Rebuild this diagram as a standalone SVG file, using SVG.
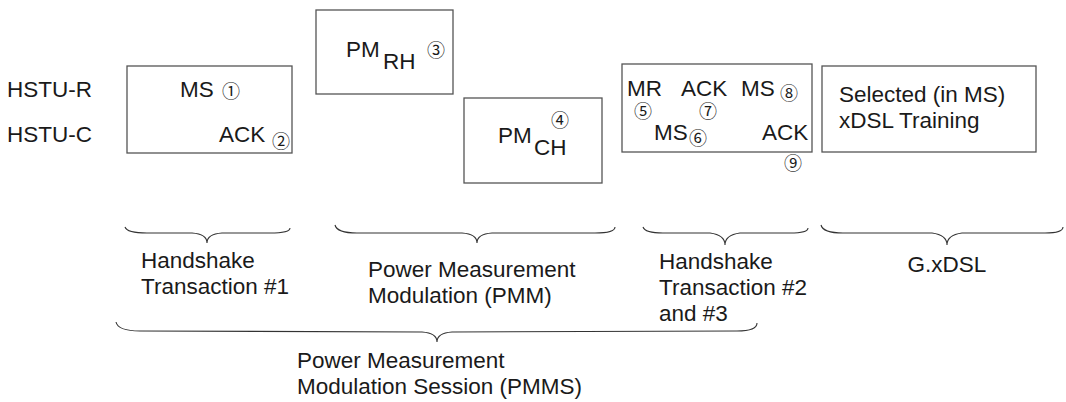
<svg xmlns="http://www.w3.org/2000/svg" width="1066" height="402" viewBox="0 0 1066 402">
<style>
.t{font-family:"Liberation Sans",Arial,sans-serif;font-size:22.5px;fill:#1a1a1a}
.c{font-family:"Noto Sans CJK JP","DejaVu Sans",sans-serif;font-size:18px;fill:#1a1a1a;text-anchor:middle;dominant-baseline:central}
.box{fill:#fff;stroke:#555;stroke-width:1.3}
.br{fill:none;stroke:#333;stroke-width:1.1}
</style>
<rect width="1066" height="402" fill="#fff"/>
<g id="labels">
<text class="t" x="7" y="97">HSTU-R</text>
<text class="t" x="7" y="142">HSTU-C</text>
</g>
<g id="node-hs1">
<rect class="box" x="127" y="66" width="165" height="87"/>
<text class="t" x="180" y="97">MS</text>
<text class="c" x="231" y="90">①</text>
<text class="t" x="219" y="142">ACK</text>
<text class="c" x="281" y="140">②</text>
</g>
<g id="node-pmrh">
<rect class="box" x="316" y="10" width="137" height="84"/>
<text class="t" x="346" y="57">PM</text>
<text class="t" x="383" y="69">RH</text>
<text class="c" x="436" y="49">③</text>
</g>
<g id="node-pmch">
<rect class="box" x="464" y="98" width="138" height="85"/>
<text class="t" x="498" y="143">PM</text>
<text class="t" x="534" y="155">CH</text>
<text class="c" x="560" y="119">④</text>
</g>
<g id="node-hs23">
<rect class="box" x="622" y="64" width="190" height="88"/>
<text class="t" x="627" y="96">MR</text>
<text class="c" x="643" y="110">⑤</text>
<text class="t" x="681" y="96">ACK</text>
<text class="c" x="708" y="110">⑦</text>
<text class="t" x="741" y="96">MS</text>
<text class="c" x="789" y="92">⑧</text>
<text class="t" x="654" y="140">MS</text>
<text class="c" x="698" y="137">⑥</text>
<text class="t" x="762" y="140">ACK</text>
<text class="c" x="793" y="162">⑨</text>
</g>
<g id="node-xdsl">
<rect class="box" x="822" y="66" width="214" height="86"/>
<text class="t" x="839" y="102">Selected (in MS)</text>
<text class="t" x="839" y="128">xDSL Training</text>
</g>
<g id="connectors">
<path class="br" d="M125 227 Q127 233 147 233 L192 233 Q207 234 207 243 Q207 234 222 233 L270 233 Q290 233 290 228"/>
<path class="br" d="M335 225 Q337 233 357 233 L462 233 Q477 234 477 243 Q477 234 492 233 L595 233 Q615 233 615 227"/>
<path class="br" d="M643 227 Q645 233 663 233 L710 233 Q725 235 725 245 Q725 235 740 233 L790 233 Q808 233 808 228"/>
<path class="br" d="M821 225 Q823 233 843 233 L932 233 Q947 235 947 245 Q947 235 962 233 L1045 233 Q1063 233 1063 227"/>
<path class="br" d="M116 322 Q118 331 140 331 L422 332 Q437 333 437 342 Q437 333 452 332 L737 331 Q757 331 757 323"/>
</g>
<g id="brace-labels">
<text class="t" x="141" y="268">Handshake</text>
<text class="t" x="141" y="294">Transaction #1</text>
<text class="t" x="368" y="277">Power Measurement</text>
<text class="t" x="368" y="303">Modulation (PMM)</text>
<text class="t" x="659" y="269">Handshake</text>
<text class="t" x="659" y="295">Transaction #2</text>
<text class="t" x="659" y="321">and #3</text>
<text class="t" x="947" y="272" text-anchor="middle">G.xDSL</text>
<text class="t" x="297" y="368">Power Measurement</text>
<text class="t" x="297" y="394">Modulation Session (PMMS)</text>
</g>
</svg>
